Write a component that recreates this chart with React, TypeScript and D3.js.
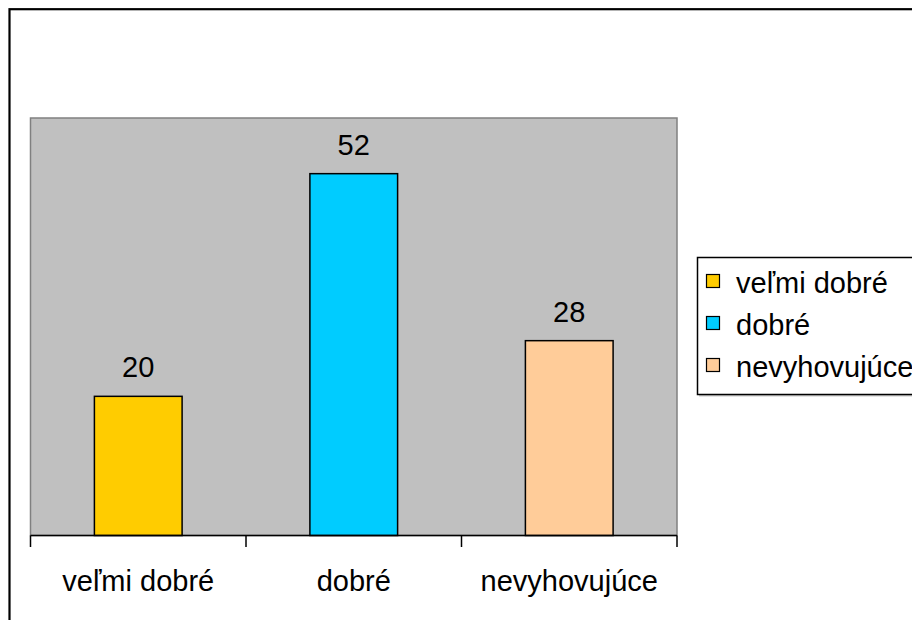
import React from "react";
import * as d3 from "d3";

const categories = ["veľmi dobré", "dobré", "nevyhovujúce"];
const values = [20, 52, 28];
const colors = ["#FFCC00", "#00CCFF", "#FFCC99"];
const yMax = 60;

export default function App() {
  const plot = { left: 30.5, right: 677, top: 118, bottom: 535.5 };
  const x = d3
    .scaleBand<string>()
    .domain(categories)
    .range([plot.left, plot.right])
    .paddingInner(0.593)
    .paddingOuter(0.2965);
  const y = d3.scaleLinear().domain([0, yMax]).range([plot.bottom, plot.top]);
  const band = (plot.right - plot.left) / categories.length;
  const tickXs = d3.range(categories.length + 1).map((i) => plot.left + i * band);
  const font = "'Liberation Sans', Arial, sans-serif";
  const fs = 29;

  return (
    <svg
      width={912}
      height={620}
      style={{ position: "absolute", left: 0, top: 0, background: "#fff" }}
      fontFamily={font}
    >
      <rect x={10.5} y={10.5} width={920} height={640} fill="none" stroke="#c8c8c8" strokeWidth={2} />
      <rect x={9.5} y={9.2} width={920} height={640} fill="#fff" stroke="#000" strokeWidth={2.2} />
      <rect
        x={plot.left}
        y={plot.top}
        width={plot.right - plot.left}
        height={plot.bottom - plot.top}
        fill="#C0C0C0"
        stroke="#808080"
        strokeWidth={1.5}
      />
      {categories.map((c, i) => (
        <g key={c}>
          <rect
            x={x(c)}
            y={y(values[i])}
            width={x.bandwidth()}
            height={plot.bottom - y(values[i])}
            fill={colors[i]}
            stroke="#000"
            strokeWidth={1.5}
          />
          <text
            x={(x(c) as number) + x.bandwidth() / 2}
            y={y(values[i]) - 19}
            textAnchor="middle"
            fontSize={fs}
            fill="#000"
          >
            {values[i]}
          </text>
          <text
            x={plot.left + band * (i + 0.5)}
            y={591}
            textAnchor="middle"
            fontSize={fs}
            fill="#000"
          >
            {c}
          </text>
        </g>
      ))}
      <line x1={plot.left} x2={plot.right} y1={plot.bottom} y2={plot.bottom} stroke="#000" strokeWidth={1.5} />
      {tickXs.map((tx, i) => (
        <line key={i} x1={tx} x2={tx} y1={plot.bottom} y2={547} stroke="#000" strokeWidth={1.5} />
      ))}
      <rect x={699} y={259} width={300} height={137.5} fill="#c8c8c8" />
      <rect x={697.5} y={257.5} width={300} height={137} fill="#fff" stroke="#000" strokeWidth={1.5} />
      {categories.map((c, i) => (
        <g key={"lg" + c}>
          <rect x={706.5} y={274.5 + i * 42} width={13} height={13} fill={colors[i]} stroke="#000" strokeWidth={1.2} />
          <text x={736} y={293 + i * 42} fontSize={fs} fill="#000">
            {c}
          </text>
        </g>
      ))}
    </svg>
  );
}
